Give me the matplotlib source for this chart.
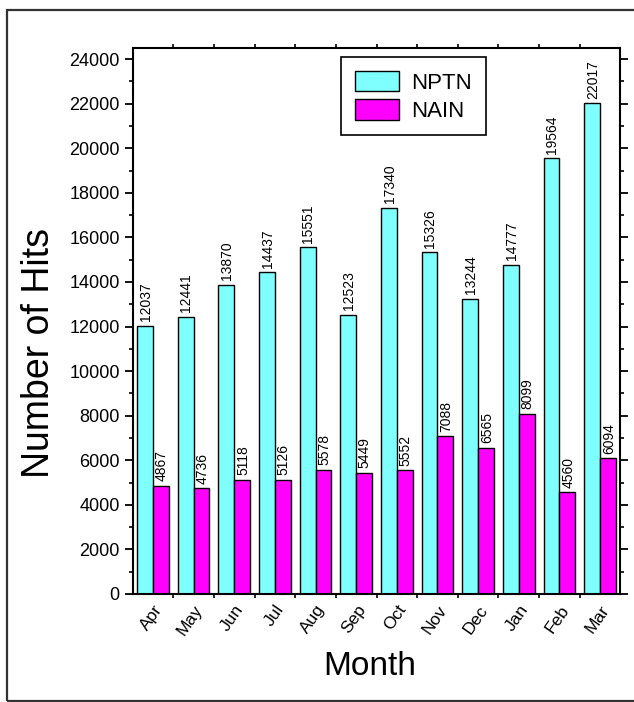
import numpy as np
import matplotlib
matplotlib.use('Agg')
from matplotlib import pyplot as plt
from matplotlib.patches import Rectangle
from matplotlib.ticker import MultipleLocator, FixedLocator

plt.rcParams['font.family'] = ['Liberation Sans', 'DejaVu Sans']

months = ['Apr', 'May', 'Jun', 'Jul', 'Aug', 'Sep', 'Oct', 'Nov', 'Dec', 'Jan', 'Feb', 'Mar']
nptn = [12037, 12441, 13870, 14437, 15551, 12523, 17340, 15326, 13244, 14777, 19564, 22017]
nain = [4867, 4736, 5118, 5126, 5578, 5449, 5552, 7088, 6565, 8099, 4560, 6094]

fig = plt.figure(figsize=(6.34, 7.02), dpi=100)

# outer frame (right edge falls outside the picture)
fig.patches.append(Rectangle((7 / 634, 1 - 701 / 702), 1.0, 691 / 702,
                             transform=fig.transFigure, fill=False,
                             edgecolor='#333333', linewidth=1.6))

ax = fig.add_axes([133 / 634, 1 - 594 / 702, 487 / 634, 546 / 702])

x = np.arange(len(months))
w = 0.39
b1 = ax.bar(x - w / 2, nptn, w, color='#80FFFF', edgecolor='black', linewidth=1, label='NPTN')
b2 = ax.bar(x + w / 2, nain, w, color='#FF00FF', edgecolor='black', linewidth=1, label='NAIN')

for bars, vals in [(b1, nptn), (b2, nain)]:
    for r, v in zip(bars, vals):
        ax.text(r.get_x() + r.get_width() / 2 + 0.02, v + 200, str(v), rotation=90,
                ha='center', va='bottom', fontsize=10)

ax.set_xlim(-0.49, 11.49)
ax.set_ylim(0, 24500)
ax.yaxis.set_major_locator(MultipleLocator(2000))
ax.yaxis.set_minor_locator(MultipleLocator(1000))
ax.set_xticks(x)
ax.set_xticklabels(months, rotation=55, ha='right', rotation_mode='anchor', fontsize=12.5)
ax.xaxis.set_minor_locator(FixedLocator(x[:-1] + 0.5))

ax.tick_params(axis='y', which='major', length=6, width=1.3, labelsize=13, direction='out',
               right=True)
ax.tick_params(axis='y', which='minor', length=3, width=1.2, direction='out', right=True)
ax.tick_params(axis='x', which='major', length=0, pad=6)
ax.tick_params(axis='x', which='minor', length=3, width=1.2, direction='out', top=True)
for s in ax.spines.values():
    s.set_linewidth(1.5)

ax.set_xlabel('Month', fontsize=24)
ax.set_ylabel('Number of Hits', fontsize=27)
ax.xaxis.set_label_coords(0.487, -0.105)
ax.yaxis.set_label_coords(-0.157, 0.441)

leg = ax.legend(loc='upper left', bbox_to_anchor=(0.428, 0.983), borderaxespad=0,
                fontsize=16, fancybox=False, edgecolor='black', framealpha=1,
                handlelength=2.0, handleheight=1.05, borderpad=0.6,
                handletextpad=0.55, labelspacing=0.25)
leg.get_frame().set_linewidth(1.2)

fig.savefig('out.png', dpi=100)
plt.close(fig)
